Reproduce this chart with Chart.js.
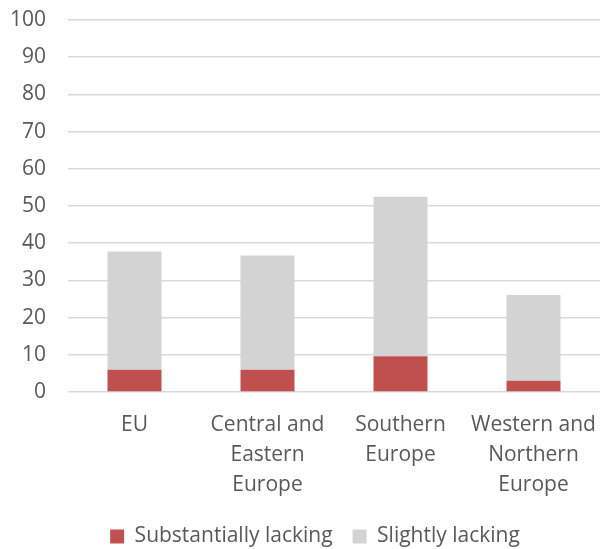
<!DOCTYPE html>
<html>
<head>
<meta charset="utf-8">
<script src="https://cdn.jsdelivr.net/npm/chart.js@4.4.1/dist/chart.umd.min.js"></script>
<style>
    html, body { margin: 0; padding: 0; background: #fff; }
    #wrap { width: 600px; height: 549px; position: relative; }
</style>
</head>
<body>
<div id="wrap"><canvas id="chart"></canvas></div>
<script>
// Share of population, by region (%)
const regions = [
    'EU',
    ['Central and', 'Eastern', 'Europe'],
    ['Southern', 'Europe'],
    ['Western and', 'Northern', 'Europe']
];
const substantiallyLacking = [6.0, 6.0, 9.6, 3.0];
const slightlyLacking = [31.8, 30.7, 42.9, 23.1];
const yTicks = [0, 10, 20, 30, 40, 50, 60, 70, 80, 90, 100];

const textColor = '#595959';
const fontFamily = '"Open Sans", "Noto Sans", sans-serif';

// legend in the original sits a bit right of the canvas centre
const legendShift = {
    id: 'legendShift',
    afterLayout(chart) {
        chart.legend.left += 15;
        chart.legend.right += 15;
    }
};

new Chart(document.getElementById('chart'), {
    type: 'bar',
    data: {
        labels: regions,
        datasets: [
            {
                label: 'Substantially lacking',
                data: substantiallyLacking,
                backgroundColor: '#c0504d',
                categoryPercentage: 1,
                barPercentage: 0.406
            },
            {
                label: 'Slightly lacking',
                data: slightlyLacking,
                backgroundColor: '#d3d3d3',
                categoryPercentage: 1,
                barPercentage: 0.406
            }
        ]
    },
    plugins: [legendShift],
    options: {
        responsive: true,
        maintainAspectRatio: false,
        animation: false,
        layout: { padding: { left: 0, right: 0, top: 20, bottom: -8 } },
        plugins: {
            legend: {
                position: 'bottom',
                labels: {
                    color: textColor,
                    font: { family: fontFamily, size: 21 },
                    boxWidth: 14,
                    boxHeight: 14,
                    padding: 20
                }
            },
            tooltip: { enabled: false }
        },
        scales: {
            x: {
                stacked: true,
                afterFit: (axis) => {
                    axis.height = 114;
                    axis.paddingLeft = 0;
                    axis.paddingRight = 0;
                },
                grid: { display: false, drawTicks: false },
                border: { display: false },
                ticks: {
                    color: textColor,
                    font: { family: fontFamily, size: 21, lineHeight: 1.43 },
                    padding: 18,
                    maxRotation: 0,
                    autoSkip: false
                }
            },
            y: {
                stacked: true,
                min: 0,
                max: 100,
                afterBuildTicks: (axis) => {
                    axis.ticks = yTicks.map(v => ({ value: v }));
                },
                afterFit: (axis) => {
                    axis.width = 68;
                    axis.paddingTop = 0;
                    axis.paddingBottom = 0;
                },
                grid: { color: '#d9d9d9', lineWidth: 1.5, drawTicks: false },
                border: { display: false },
                ticks: {
                    color: textColor,
                    font: { family: fontFamily, size: 21, lineHeight: 1 },
                    padding: 22
                }
            }
        }
    }
});
</script>
</body>
</html>
